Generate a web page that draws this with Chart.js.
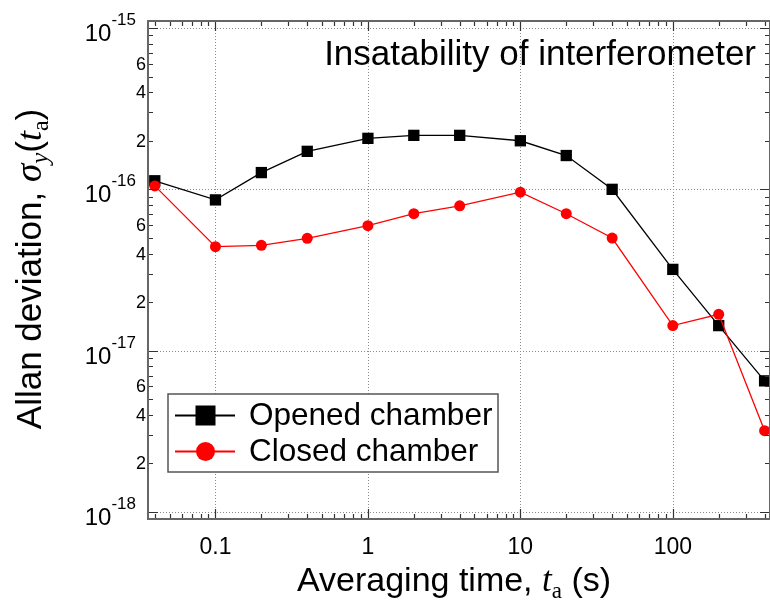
<!DOCTYPE html>
<html>
<head>
<meta charset="utf-8">
<script src="https://cdn.jsdelivr.net/npm/chart.js@4.4.0/dist/chart.umd.min.js"></script>
<style>
  html, body { margin: 0; padding: 0; background: #fff; }
  #wrap { width: 770px; height: 603px; }
</style>
</head>
<body>
<div id="wrap"><canvas id="allanChart" width="770" height="603"></canvas></div>
<script>
// averaging time (s) and Allan deviation
const averagingTimes = [0.04, 0.1, 0.2, 0.4, 1, 2, 4, 10, 20, 40, 100, 200, 400];
const openedChamber = [1.13e-16, 0.86e-16, 1.27e-16, 1.72e-16, 2.07e-16, 2.16e-16, 2.16e-16, 2.0e-16, 1.62e-16, 1.0e-16, 3.19e-17, 1.43e-17, 6.5e-18];
const closedChamber = [1.05e-16, 4.41e-17, 4.5e-17, 4.97e-17, 5.95e-17, 7.06e-17, 7.9e-17, 0.96e-16, 7.06e-17, 4.99e-17, 1.43e-17, 1.68e-17, 3.19e-18];

const xTickValues = [0.1, 1, 10, 100];
const xTickLabels = ['0.1', '1', '10', '100'];
const yDecades = [1e-18, 1e-17, 1e-16, 1e-15];
const yDecadeExponents = ['-18', '-17', '-16', '-15'];
const yMinorSteps = [2, 4, 6];

const X_MIN = 0.0361, X_MAX = 434;
const Y_MIN = 0.905e-18, Y_MAX = 1.105e-15;

const SANS = '"Liberation Sans", Arial, sans-serif';
const SERIF = '"Liberation Serif", "Times New Roman", serif';

function minorValues(lo, hi) {
    const out = [];
    for (let e = -20; e <= 5; e++) {
        for (let m = 1; m <= 9; m++) {
            const v = m * Math.pow(10, e);
            if (v >= lo && v <= hi) out.push({ v: v, major: m === 1 });
        }
    }
    return out;
}

// draws a list of text pieces one after another, centred on cx
function drawRuns(ctx, runs, cx, baseY) {
    let total = 0;
    runs.forEach(r => { ctx.font = r.font; r.w = ctx.measureText(r.text).width; total += r.w; });
    let x = cx - total / 2;
    ctx.textAlign = 'left';
    ctx.textBaseline = 'alphabetic';
    runs.forEach(r => {
        ctx.font = r.font;
        ctx.fillText(r.text, x, baseY + (r.dy || 0));
        x += r.w;
    });
}

const plotDecor = {
    id: 'plotDecor',
    beforeDatasetsDraw(chart) {
        const { ctx, chartArea: a, scales: { x, y } } = chart;
        ctx.save();
        ctx.strokeStyle = '#8a8a8a';
        ctx.lineWidth = 1;
        ctx.setLineDash([1, 2]);
        xTickValues.forEach(v => {
            const px = Math.round(x.getPixelForValue(v)) + 0.5;
            ctx.beginPath(); ctx.moveTo(px, a.top); ctx.lineTo(px, a.bottom); ctx.stroke();
        });
        yDecades.forEach(v => {
            const py = Math.round(y.getPixelForValue(v)) + 0.5;
            ctx.beginPath(); ctx.moveTo(a.left, py); ctx.lineTo(a.right, py); ctx.stroke();
        });
        ctx.restore();
    },
    afterDatasetsDraw(chart) {
        const { ctx, chartArea: a, scales: { x, y } } = chart;
        ctx.save();

        // inward ticks on all four sides
        ctx.strokeStyle = '#333';
        ctx.lineWidth = 1.2;
        minorValues(X_MIN, X_MAX).forEach(t => {
            const px = Math.round(x.getPixelForValue(t.v)) + 0.5;
            const len = t.major ? 10 : 5;
            ctx.beginPath();
            ctx.moveTo(px, a.bottom); ctx.lineTo(px, a.bottom - len);
            ctx.moveTo(px, a.top); ctx.lineTo(px, a.top + len);
            ctx.stroke();
        });
        minorValues(Y_MIN, Y_MAX).forEach(t => {
            const py = Math.round(y.getPixelForValue(t.v)) + 0.5;
            const len = t.major ? 10 : 5;
            ctx.beginPath();
            ctx.moveTo(a.left, py); ctx.lineTo(a.left + len, py);
            ctx.moveTo(a.right, py); ctx.lineTo(a.right - len, py);
            ctx.stroke();
        });

        // frame
        ctx.strokeStyle = '#666';
        ctx.lineWidth = 2;
        ctx.strokeRect(a.left, a.top, a.right - a.left, a.bottom - a.top);

        ctx.fillStyle = '#000';

        // x tick labels
        ctx.font = '23px ' + SANS;
        ctx.textAlign = 'center';
        ctx.textBaseline = 'middle';
        xTickValues.forEach((v, i) => {
            ctx.fillText(xTickLabels[i], x.getPixelForValue(v), 548);
        });

        // y decade labels 10^n
        yDecades.forEach((v, i) => {
            const py = y.getPixelForValue(v);
            const right = 136;
            ctx.font = '17px ' + SANS;
            const we = ctx.measureText(yDecadeExponents[i]).width;
            ctx.textAlign = 'left';
            ctx.textBaseline = 'alphabetic';
            ctx.fillText(yDecadeExponents[i], right - we, py - 3);
            ctx.font = '24px ' + SANS;
            ctx.textAlign = 'right';
            ctx.fillText('10', right - we, py + 13);
        });

        // y minor labels 2, 4, 6
        ctx.font = '18px ' + SANS;
        ctx.textAlign = 'right';
        ctx.textBaseline = 'middle';
        yDecades.slice(0, 3).forEach(d => {
            yMinorSteps.forEach(m => {
                ctx.fillText(String(m), 146, y.getPixelForValue(m * d) + 1);
            });
        });

        // axis titles
        drawRuns(ctx, [
            { text: 'Averaging time, ', font: '34px ' + SANS },
            { text: 't', font: 'italic 35px ' + SERIF },
            { text: 'a', font: '23px ' + SERIF, dy: 7 },
            { text: ' (s)', font: '34px ' + SANS }
        ], 454, 591);

        ctx.save();
        ctx.translate(41, 269);
        ctx.rotate(-Math.PI / 2);
        drawRuns(ctx, [
            { text: 'Allan deviation, ', font: '35px ' + SANS },
            { text: 'σ', font: 'italic 37px ' + SERIF },
            { text: 'y', font: 'italic 25px ' + SERIF, dy: 7 },
            { text: '(', font: '35px ' + SANS },
            { text: 't', font: 'italic 36px ' + SERIF },
            { text: 'a', font: '24px ' + SERIF, dy: 7 },
            { text: ')', font: '35px ' + SANS }
        ], 0, 0);
        ctx.restore();

        // in-plot title
        ctx.font = '35px ' + SANS;
        ctx.textAlign = 'right';
        ctx.textBaseline = 'alphabetic';
        ctx.fillText('Insatability of interferometer', 756, 65);

        // legend
        const lx = 168, ly = 394, lw = 330, lh = 78;
        ctx.fillStyle = '#fff';
        ctx.fillRect(lx, ly, lw, lh);
        ctx.strokeStyle = '#555';
        ctx.lineWidth = 1.5;
        ctx.strokeRect(lx, ly, lw, lh);
        const entries = [
            { label: 'Opened chamber', color: '#000', square: true, cy: 415.5 },
            { label: 'Closed chamber', color: '#ff0000', square: false, cy: 451.5 }
        ];
        entries.forEach(e => {
            ctx.strokeStyle = e.color;
            ctx.lineWidth = 2;
            ctx.beginPath(); ctx.moveTo(175, e.cy); ctx.lineTo(235, e.cy); ctx.stroke();
            ctx.fillStyle = e.color;
            if (e.square) {
                ctx.fillRect(205.5 - 10, e.cy - 10, 20, 20);
            } else {
                ctx.beginPath(); ctx.arc(205.5, e.cy, 9.5, 0, Math.PI * 2); ctx.fill();
            }
            ctx.fillStyle = '#000';
            ctx.font = '31.5px ' + SANS;
            ctx.textAlign = 'left';
            ctx.textBaseline = 'middle';
            ctx.fillText(e.label, 249, e.cy + 1);
        });

        ctx.restore();
    }
};

const toPoints = vals => averagingTimes.map((t, i) => ({ x: t, y: vals[i] }));

new Chart(document.getElementById('allanChart'), {
    type: 'line',
    data: {
        datasets: [{
            label: 'Opened chamber',
            data: toPoints(openedChamber),
            borderColor: '#000',
            backgroundColor: '#000',
            borderWidth: 1.3,
            pointStyle: 'rect',
            pointRadius: 8,
            pointBorderWidth: 0,
            pointBackgroundColor: '#000',
            tension: 0,
            order: 2
        }, {
            label: 'Closed chamber',
            data: toPoints(closedChamber),
            borderColor: '#ff0000',
            backgroundColor: '#ff0000',
            borderWidth: 1.3,
            pointStyle: 'circle',
            pointRadius: 5.5,
            pointBorderWidth: 0,
            pointBackgroundColor: '#ff0000',
            tension: 0,
            order: 1
        }]
    },
    options: {
        responsive: false,
        animation: false,
        devicePixelRatio: 1,
        layout: { autoPadding: false, padding: { left: 148, right: 0, top: 21, bottom: 84 } },
        scales: {
            x: { type: 'logarithmic', min: X_MIN, max: X_MAX, display: false },
            y: { type: 'logarithmic', min: Y_MIN, max: Y_MAX, display: false }
        },
        plugins: {
            legend: { display: false },
            title: { display: false },
            tooltip: { enabled: false }
        },
        elements: { line: { fill: false } }
    },
    plugins: [plotDecor]
});
</script>
</body>
</html>
